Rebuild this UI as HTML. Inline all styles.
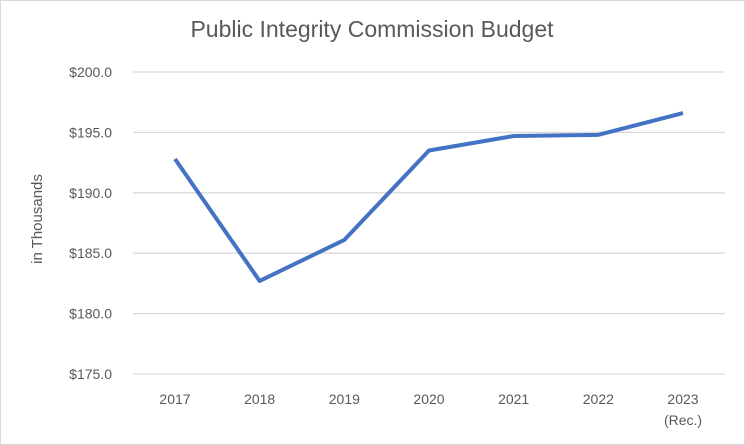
<!DOCTYPE html>
<html><head><meta charset="utf-8"><style>
html,body{margin:0;padding:0;background:#fff;}
svg{display:block;font-family:"Liberation Sans",sans-serif;}
</style></head><body>
<svg id="chart" width="745" height="445">
<rect x="0.5" y="0.5" width="744" height="444" fill="#fff" stroke="#d9d9d9"/>
<text x="372" y="37" text-anchor="middle" font-size="23" fill="#595959">Public Integrity Commission Budget</text>
<text transform="translate(42,219) rotate(-90)" text-anchor="middle" font-size="15" fill="#595959">in Thousands</text>
<g id="grid"></g><g id="yt"></g><g id="xt"></g><g id="series"></g>
</svg>
<script>
const categories=["2017","2018","2019","2020","2021","2022","2023"];
const subLabels=["","","","","","","(Rec.)"];
const values=[192.8,182.7,186.1,193.5,194.7,194.8,196.6];
const yTicks=[175,180,185,190,195,200];
const NS="http://www.w3.org/2000/svg";
const y=v=>374-(v-175)*(374-72)/25;
const x=i=>175+i*(683-175)/6;
function mk(t,a,p){const e=document.createElementNS(NS,t);for(const k in a)e.setAttribute(k,a[k]);p.appendChild(e);return e;}
const g=document.getElementById('grid'),yt=document.getElementById('yt'),xt=document.getElementById('xt'),s=document.getElementById('series');
yTicks.forEach(v=>{
 const l=mk('line',{x1:133,x2:725,y1:y(v),y2:y(v),stroke:'#d9d9d9','stroke-width':1.3},g);
 
 
 const t=mk('text',{x:112,y:y(v)+5,'text-anchor':'end','font-size':14,fill:'#595959'},yt);
 t.textContent='$'+v.toFixed(1);
 
 
});
categories.forEach((c,i)=>{
 const t=mk('text',{x:x(i),y:404,'text-anchor':'middle','font-size':14,fill:'#595959'},xt);
 t.textContent=c;
 
 
 if(subLabels[i]){const u=mk('text',{x:x(i),y:425,'text-anchor':'middle','font-size':14,fill:'#595959'},xt);u.textContent=subLabels[i];
 
 }
});
const p=mk('polyline',{points:values.map((v,i)=>x(i)+','+y(v)).join(' '),fill:'none',stroke:'#4472c4','stroke-width':4,'stroke-linejoin':'round'},s);


</script>
</body></html>
